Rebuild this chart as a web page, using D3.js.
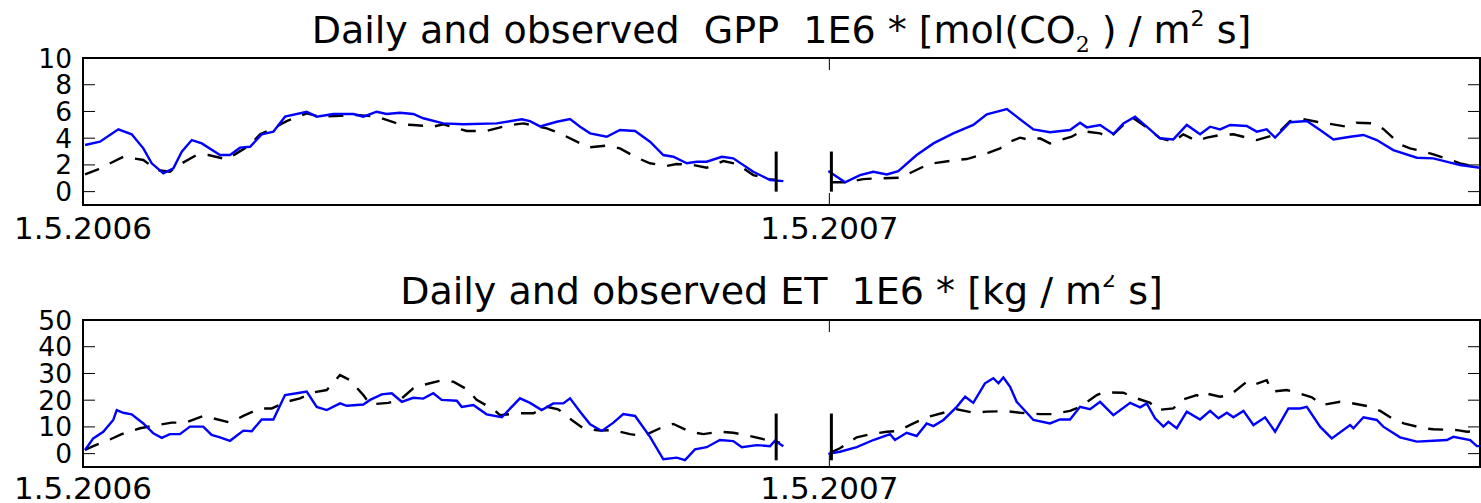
<!DOCTYPE html>
<html><head><meta charset="utf-8">
<script src="https://cdn.jsdelivr.net/npm/d3@7"></script>
<style>
body{margin:0;background:#fff}
svg{display:block}
text{font-family:"DejaVu Sans",sans-serif;fill:#000}
</style>
</head><body>
<svg id="c" width="1481" height="503"></svg>
<script>
// ---- data (day = days since 1.5.2006) ----
const xTickDays = [0, 365];
const xTickLabels = ["1.5.2006", "1.5.2007"];
const gppTicks = [0, 2, 4, 6, 8, 10];
const etTicks = [0, 10, 20, 30, 40, 50];
const gapMarkDays = [339, 366];
const gppMarkRange = [0, 3];
const etMarkRange = [-2.5, 15];

const gppModel = [[1,3.49],[8.3,3.74],[17.3,4.66],[23.8,4.29],[29.5,3.24],[33.6,2.12],[39.3,1.37],[44.2,1.74],[48.3,2.99],[53.2,3.86],[58.1,3.61],[67,2.74],[71.9,2.74],[76.8,3.29],[81.7,3.36],[87.4,4.29],[93.1,4.49],[98.8,5.61],[109.4,5.98],[114.3,5.61],[122.4,5.81],[132.2,5.81],[137.1,5.61],[143.6,5.98],[148.5,5.81],[155,5.9],[161.5,5.81],[166.4,5.49],[176.2,5.11],[186,5.04],[202.3,5.11],[214.6,5.41],[218.6,5.28],[223.5,4.88],[231.7,5.23],[238.2,5.43],[243.1,4.86],[248,4.36],[256.1,4.11],[262.6,4.61],[270,4.54],[277.3,3.74],[283.8,2.74],[288.7,2.61],[295.3,2.12],[300.1,2.24],[305,2.24],[312.4,2.61],[318,2.49],[327.8,1.49],[336,0.87],[342.5,0.79],[350,null],[364.5,1.54],[372.7,0.7],[380,1.24],[386.5,1.49],[393.1,1.29],[398.7,1.54],[407.7,2.74],[415.9,3.61],[425.6,4.36],[435.4,4.99],[442,5.79],[448.5,6.05],[451.8,6.18],[456.6,5.61],[464.8,4.66],[472.9,4.44],[482.7,4.61],[487.6,5.16],[490.9,4.81],[497.4,4.99],[503.9,4.31],[508.8,5.11],[514.5,5.61],[520.2,4.86],[526.7,3.99],[533.2,3.91],[539.8,4.99],[546.3,4.29],[551.2,4.86],[556.1,4.66],[561,4.99],[569.1,4.91],[574,4.49],[578.9,4.66],[583,4.04],[590.3,5.19],[598.5,5.28],[605,4.61],[611.5,3.91],[619.7,4.11],[626.2,4.24],[632.7,3.86],[640.8,3.11],[652.3,2.54],[660.4,2.49],[673.5,1.99],[683.2,1.79]];

const gppObs = [[1,1.29],[6.7,1.62],[14.8,2.24],[19.7,2.61],[29.5,2.37],[36,1.62],[42.5,1.49],[47.4,2.04],[55.6,2.74],[61.3,2.74],[70.3,2.42],[74.3,2.79],[81.7,3.49],[86.6,4.29],[93.1,4.74],[99.6,5.28],[109.4,5.86],[115.9,5.61],[125.7,5.68],[133.9,5.74],[143.6,5.61],[155,5.04],[161.5,4.99],[171.3,4.86],[176.2,5.04],[187.7,4.54],[197.4,4.54],[207.2,4.94],[215.3,5.11],[226.8,4.74],[233.3,4.36],[241.5,3.74],[247.1,3.31],[256.1,3.44],[262.6,3.24],[270.8,2.54],[277.3,2.12],[285.5,1.92],[290.4,2.07],[298.5,1.99],[305,1.79],[313.2,2.29],[319.7,2.07],[327.8,1.24],[336,0.94],[339.3,0.87],[350,null],[365.3,0.7],[373.5,0.7],[381.6,0.94],[388.2,0.99],[399.6,1.04],[411,1.87],[415.9,2.12],[427.3,2.37],[432.2,2.44],[442,2.87],[448.5,3.24],[453.4,3.74],[458.3,4.04],[463.2,3.86],[468,3.99],[472.9,3.61],[477.8,3.86],[483.5,4.11],[488.4,4.54],[497.4,4.36],[502.3,4.04],[508.8,4.99],[513.7,5.49],[520.2,4.8],[526.7,4.0],[533.2,3.74],[538.1,4.29],[544.7,3.79],[549.6,4.04],[556.1,4.24],[562.6,4.29],[569.1,4.04],[574,3.86],[583.8,4.29],[590.3,5.28],[596.8,5.43],[603.3,5.23],[608.2,5.11],[618,4.86],[622.9,5.16],[631,5.11],[635.9,4.69],[644.1,3.54],[649,3.24],[657.1,2.94],[660.4,2.79],[673.5,2.12],[683.2,1.79]];

const etModel = [[1,1.35],[5,5.7],[9.9,8.2],[14.8,12.6],[16.5,16.3],[19.7,15.3],[23.8,14.7],[29.5,11.3],[34.4,7.6],[38.5,5.9],[42.5,7.3],[47.4,7.3],[52.3,10.1],[58.8,10.1],[62.9,7.0],[67,6.1],[71.9,4.8],[78.4,8.6],[82.5,8.4],[87.4,12.8],[93.1,12.8],[98.8,21.9],[104.5,22.6],[109.4,23.2],[114.3,17.5],[119.2,16.3],[125.7,18.8],[129,17.9],[137.1,18.4],[140.4,20.1],[146.1,22.2],[151,22.6],[155.9,19.4],[161.5,20.9],[166.4,20.6],[171.3,22.6],[175.4,20.1],[182.8,19.8],[185.2,17.5],[190.9,18.2],[197.4,14.7],[204.8,13.6],[213.7,20.7],[218.6,19.0],[224.3,16.3],[230,18.8],[234.9,18.8],[238.2,20.7],[243.1,15.7],[248,11.0],[253.7,8.5],[259.4,11.6],[264.2,14.8],[270,14.1],[277.3,6.3],[283.8,-2.1],[290.4,-1.5],[294.4,-2.4],[299.3,1.6],[305,2.4],[311.5,5.1],[318,4.7],[322.2,2.4],[329.5,3.2],[336,2.8],[338.4,4.8],[342.5,2.8],[350,null],[364.5,-0.1],[370.2,0.7],[378.4,2.4],[386.5,5.1],[394.7,7.3],[397.1,5.1],[402.8,7.8],[407.7,6.6],[412.6,11.3],[415.9,10.3],[420.8,12.6],[427.3,17.5],[431.4,21.3],[435.4,19.0],[441.1,26.3],[445.2,28.2],[447.7,26.3],[450.1,28.5],[453.4,25.0],[456.6,19.4],[464.8,12.6],[472.9,11.3],[477.8,12.8],[482.7,12.8],[487.6,17.5],[492.5,16.6],[497.4,19.4],[503.9,14.4],[512.1,19.0],[517,17.3],[520.2,18.8],[524.3,13.2],[528.4,10.1],[530.8,11.9],[534.9,9.5],[539.8,15.7],[546.3,12.8],[551.2,16.0],[555.3,13.2],[559.4,15.3],[562.6,13.6],[567.5,16.0],[572.4,10.7],[578.1,13.6],[583,8.2],[589.5,16.9],[595.2,16.9],[598.5,17.5],[605,10.1],[610.7,5.7],[619.7,10.7],[621.3,9.5],[626.2,13.6],[632.7,12.6],[635.9,10.1],[644.1,6.1],[652.3,4.5],[660.4,4.8],[667,5.1],[670.2,6.3],[678.4,5.1],[681.7,2.8],[683.2,2.8]];

const etObs = [[1,1.35],[5,2.8],[13.2,5.3],[18.9,7.3],[27.9,9.5],[34.4,10.4],[43.4,11.6],[49.9,11.6],[58.8,14.1],[63.7,13.2],[71.9,11.6],[78.4,14.1],[86.6,16.9],[92.3,16.9],[99.6,19.4],[106.1,20.7],[112.6,22.9],[119.2,23.8],[125.7,29.4],[130.6,27.5],[137.1,21.9],[140.4,18.4],[149.3,19.0],[155,20.1],[161.5,24.4],[166.4,25.7],[174.6,27.3],[181.1,26.9],[188.4,23.8],[192.5,20.1],[200.7,16.6],[203.9,14.4],[213.7,15.1],[220.2,15.1],[226.8,17.5],[232.4,16.6],[239,12.6],[244.7,9.5],[252.9,8.6],[259.4,8.8],[267.5,7.3],[274,6.6],[282.2,9.5],[288.7,11.1],[296.9,8.2],[303.4,7.3],[311.5,8.2],[318,7.8],[326.2,6.6],[334.4,5.1],[340.9,4.1],[350,null],[365.3,0.3],[370.2,2.0],[378.4,6.1],[385,7.3],[393.1,8.2],[398.7,8.5],[406.1,11.3],[412.6,13.6],[420.8,15.3],[427.3,16.6],[435.4,15.3],[442,15.7],[451.8,15.9],[458.3,15.3],[468,14.8],[474.5,14.8],[482.7,16.0],[487.6,17.5],[495.8,21.9],[499,22.9],[508.8,22.8],[513.7,21.1],[521.9,19.0],[525.1,16.3],[533.2,16.9],[537.3,20.1],[544.7,21.9],[546.3,21.1],[548.7,22.6],[556.1,21.3],[561,21.9],[569.1,26.9],[572.4,25.7],[578.9,27.5],[581.4,23.2],[588.7,23.8],[593.6,22.8],[601,21.1],[605.9,18.2],[614.8,19.4],[619.7,19.0],[627.9,17.8],[634.4,16.0],[641,12.8],[645.9,11.3],[655.7,9.5],[660.4,9.1],[672,8.8],[676.9,8.2],[683.2,8.6]];

// ---- drawing ----
const svg = d3.select("#c");
const defs = svg.append("defs");
const X0 = 83, X1 = 1480;
const x = d3.scaleLinear().domain([0, 683.2]).range([X0, X1]);

const panels = [
  {top: 58, bottom: 205, domain: [-1, 10], ticks: gppTicks, model: gppModel, obs: gppObs,
   marks: gppMarkRange, titleY: 43, labelY: 239, title: "gpp"},
  {top: 320, bottom: 467, domain: [-5, 50], ticks: etTicks, model: etModel, obs: etObs,
   marks: etMarkRange, titleY: 304, labelY: 499, title: "et"}
];

panels.forEach((p, i) => {
  const y = d3.scaleLinear().domain(p.domain).range([p.bottom, p.top]);
  const g = svg.append("g");
  const clipId = "clip" + i;
  defs.append("clipPath").attr("id", clipId)
    .append("rect").attr("x", X0).attr("y", p.top).attr("width", X1 - X0).attr("height", p.bottom - p.top);

  const line = d3.line().defined(d => d[1] != null).x(d => x(d[0])).y(d => y(d[1]));
  const plot = g.append("g").attr("clip-path", `url(#${clipId})`);
  plot.append("path").datum(p.obs).attr("d", line)
    .attr("fill", "none").attr("stroke", "#000").attr("stroke-width", 2.4)
    .attr("stroke-dasharray", "15,12");
  plot.append("path").datum(p.model).attr("d", line)
    .attr("fill", "none").attr("stroke", "#0000ff").attr("stroke-width", 2.4);
  // gap marker bars
  plot.selectAll(".mk").data(gapMarkDays).enter().append("line")
    .attr("x1", d => x(d)).attr("x2", d => x(d))
    .attr("y1", y(p.marks[0])).attr("y2", y(p.marks[1]))
    .attr("stroke", "#000").attr("stroke-width", 3);

  // frame
  g.append("rect").attr("x", X0).attr("y", p.top).attr("width", X1 - X0).attr("height", p.bottom - p.top)
    .attr("fill", "none").attr("stroke", "#000").attr("stroke-width", 2);

  // y ticks (inward, both sides)
  const TL = 12;
  p.ticks.forEach(t => {
    const yy = y(t);
    g.append("line").attr("x1", X0).attr("x2", X0 + TL).attr("y1", yy).attr("y2", yy).attr("stroke", "#000").attr("stroke-width", 1);
    g.append("line").attr("x1", X1 - TL).attr("x2", X1).attr("y1", yy).attr("y2", yy).attr("stroke", "#000").attr("stroke-width", 1);
    g.append("text").attr("x", 72).attr("y", yy).attr("text-anchor", "end")
      .attr("dominant-baseline", "central").attr("font-size", 26.5).text(t);
  });
  // x ticks
  xTickDays.forEach((d, k) => {
    const xx = x(d);
    g.append("line").attr("x1", xx).attr("x2", xx).attr("y1", p.top).attr("y2", p.top + TL).attr("stroke", "#000").attr("stroke-width", 1);
    g.append("line").attr("x1", xx).attr("x2", xx).attr("y1", p.bottom - TL).attr("y2", p.bottom).attr("stroke", "#000").attr("stroke-width", 1);
    g.append("text").attr("x", xx).attr("y", p.labelY).attr("text-anchor", "middle")
      .attr("font-size", 31).text(xTickLabels[k]);
  });

  // title
  const cx = (X0 + X1) / 2;
  const t = g.append("text").attr("x", cx).attr("y", p.titleY).attr("text-anchor", "middle")
    .attr("font-size", 38).style("white-space", "pre");
  if (p.title === "gpp") {
    t.append("tspan").text("Daily and observed  GPP  1E6 * [mol(CO");
    t.append("tspan").attr("dy", 9).attr("font-size", 22).style("font-family", "'DejaVu Serif',serif").text("2");
    t.append("tspan").attr("dy", -9).text(" ) / m");
    t.append("tspan").attr("dy", -17).attr("font-size", 22).text("2");
    t.append("tspan").attr("dy", 17).text(" s]");
  } else {
    defs.append("clipPath").attr("id", "titleClip")
      .append("rect").attr("x", 0).attr("y", 275).attr("width", 1481).attr("height", 40);
    t.attr("clip-path", "url(#titleClip)");
    t.append("tspan").text("Daily and observed ET  1E6 * [kg / m");
    t.append("tspan").attr("dy", -17).attr("font-size", 22).text("2");
    t.append("tspan").attr("dy", 17).text(" s]");
  }
});
</script>
</body></html>
